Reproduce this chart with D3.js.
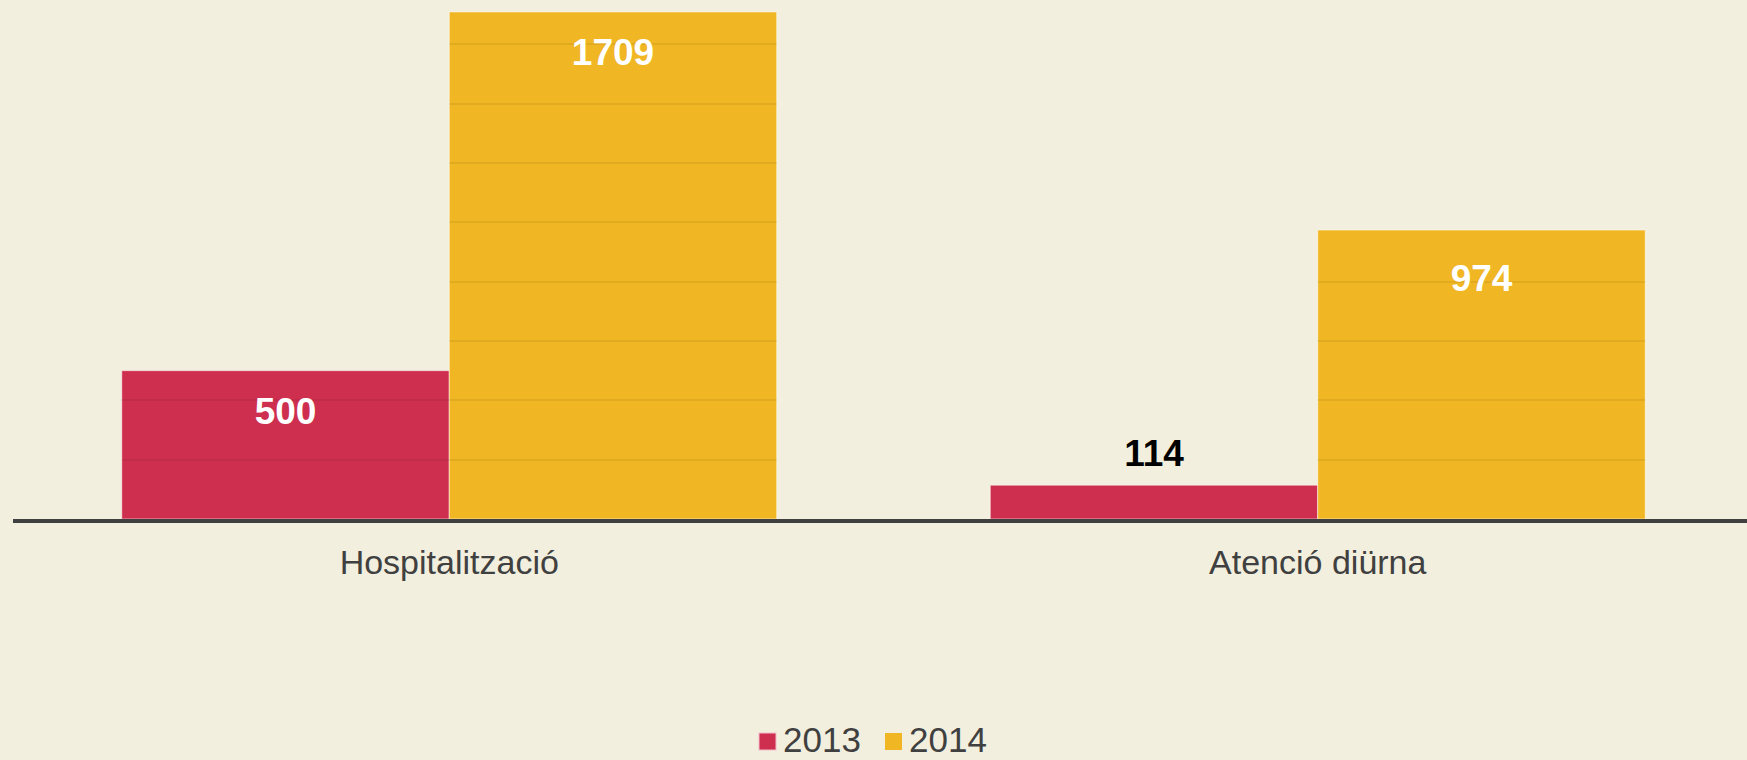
<!DOCTYPE html>
<meta charset="utf-8">
<style>
body { margin: 0; background: #f2efde; }
svg { display: block; font-family: "Liberation Sans", Arial, sans-serif; }
.grid line { stroke: #000; stroke-opacity: .06; stroke-width: 2px; }
.bar { stroke: #fff; stroke-opacity: .55; stroke-width: 1px; }
.cat { fill: #404040; font-size: 34px; }
.val { font-size: 37px; font-weight: bold; }
.legend text { fill: #404040; font-size: 35px; }
</style>
<body>
<div id="chart"></div>
<script src="https://d3js.org/d3.v7.min.js"></script>
<script>

// data
var categories = ["Hospitalització", "Atenció diürna"];
var years = ["2013", "2014"];
var values2013 = [500, 114];
var values2014 = [1709, 974];
var gridTicks = [200, 400, 600, 800, 1000, 1200, 1400, 1600];
var colors = ["#ce2f4f", "#f0b623"];

var width = 1747,
    height = 760,
    baseline = 519;

var rows = [];
categories.forEach(function(c, i) {
    rows.push({cat: c, year: years[0], value: values2013[i]});
    rows.push({cat: c, year: years[1], value: values2014[i]});
});

var svg = d3.select("#chart").append("svg")
    .attr("width", width)
    .attr("height", height);

var x0 = d3.scaleBand()
    .domain(categories)
    .range([15, 1752]);

var x1 = d3.scaleBand()
    .domain(years)
    .range([0, x0.bandwidth()])
    .paddingOuter(0.326);

var y = d3.scaleLinear()
    .domain([0, 1800])
    .range([baseline, baseline - 1800 * 0.2967]);

var color = d3.scaleOrdinal().domain(years).range(colors);

function barX(d) { return x0(d.cat) + x1(d.year); }

// bars
svg.selectAll("rect.bar")
    .data(rows)
    .enter()
    .append("rect")
    .attr("class", "bar")
    .attr("x", barX)
    .attr("y", function(d) { return y(d.value); })
    .attr("width", x1.bandwidth())
    .attr("height", function(d) { return baseline - y(d.value); })
    .style("fill", function(d) { return color(d.year); });

// gridlines only show on top of the bars
svg.append("clipPath")
    .attr("id", "barclip")
    .selectAll("rect")
    .data(rows)
    .enter()
    .append("rect")
    .attr("x", barX)
    .attr("y", function(d) { return y(d.value); })
    .attr("width", x1.bandwidth())
    .attr("height", function(d) { return baseline - y(d.value); });

svg.append("g")
    .attr("class", "grid")
    .attr("clip-path", "url(#barclip)")
    .selectAll("line")
    .data(gridTicks)
    .enter()
    .append("line")
    .attr("x1", 0)
    .attr("x2", width)
    .attr("y1", function(d) { return Math.round(y(d)); })
    .attr("y2", function(d) { return Math.round(y(d)); });

// value labels
svg.selectAll("text.val")
    .data(rows)
    .enter()
    .append("text")
    .attr("class", "val")
    .attr("text-anchor", "middle")
    .attr("x", function(d) { return barX(d) + x1.bandwidth() / 2; })
    .attr("y", function(d) {
        var h = baseline - y(d.value);
        if (h < 80) return y(d.value) - 19;
        // the shorter yellow bar has its label sitting a bit lower
        return y(d.value) + (d.value < 1000 && d.year == "2014" ? 61 : 53);
    })
    .style("fill", function(d) { return (baseline - y(d.value)) < 80 ? "#000" : "#fff"; })
    .text(function(d) { return d.value; });

// axis line
svg.append("line")
    .attr("x1", 13)
    .attr("x2", width)
    .attr("y1", baseline + 2)
    .attr("y2", baseline + 2)
    .style("stroke", "#404040")
    .style("stroke-width", 4);

// category labels
svg.selectAll("text.cat")
    .data(categories)
    .enter()
    .append("text")
    .attr("class", "cat")
    .attr("text-anchor", "middle")
    .attr("x", function(d) { return x0(d) + x0.bandwidth() / 2; })
    .attr("y", 574)
    .text(function(d) { return d; });

// legend
var legend = svg.append("g").attr("class", "legend");
var legX = [759, 885];
years.forEach(function(yr, i) {
    legend.append("rect")
        .attr("x", legX[i])
        .attr("y", 733)
        .attr("width", 17)
        .attr("height", 17)
        .style("fill", color(yr))
        .style("stroke", i == 0 ? "#f2bccb" : "none")
        .style("stroke-width", 1);
    legend.append("text")
        .attr("x", legX[i] + 24)
        .attr("y", 752)
        .text(yr);
});

</script>
</body>
